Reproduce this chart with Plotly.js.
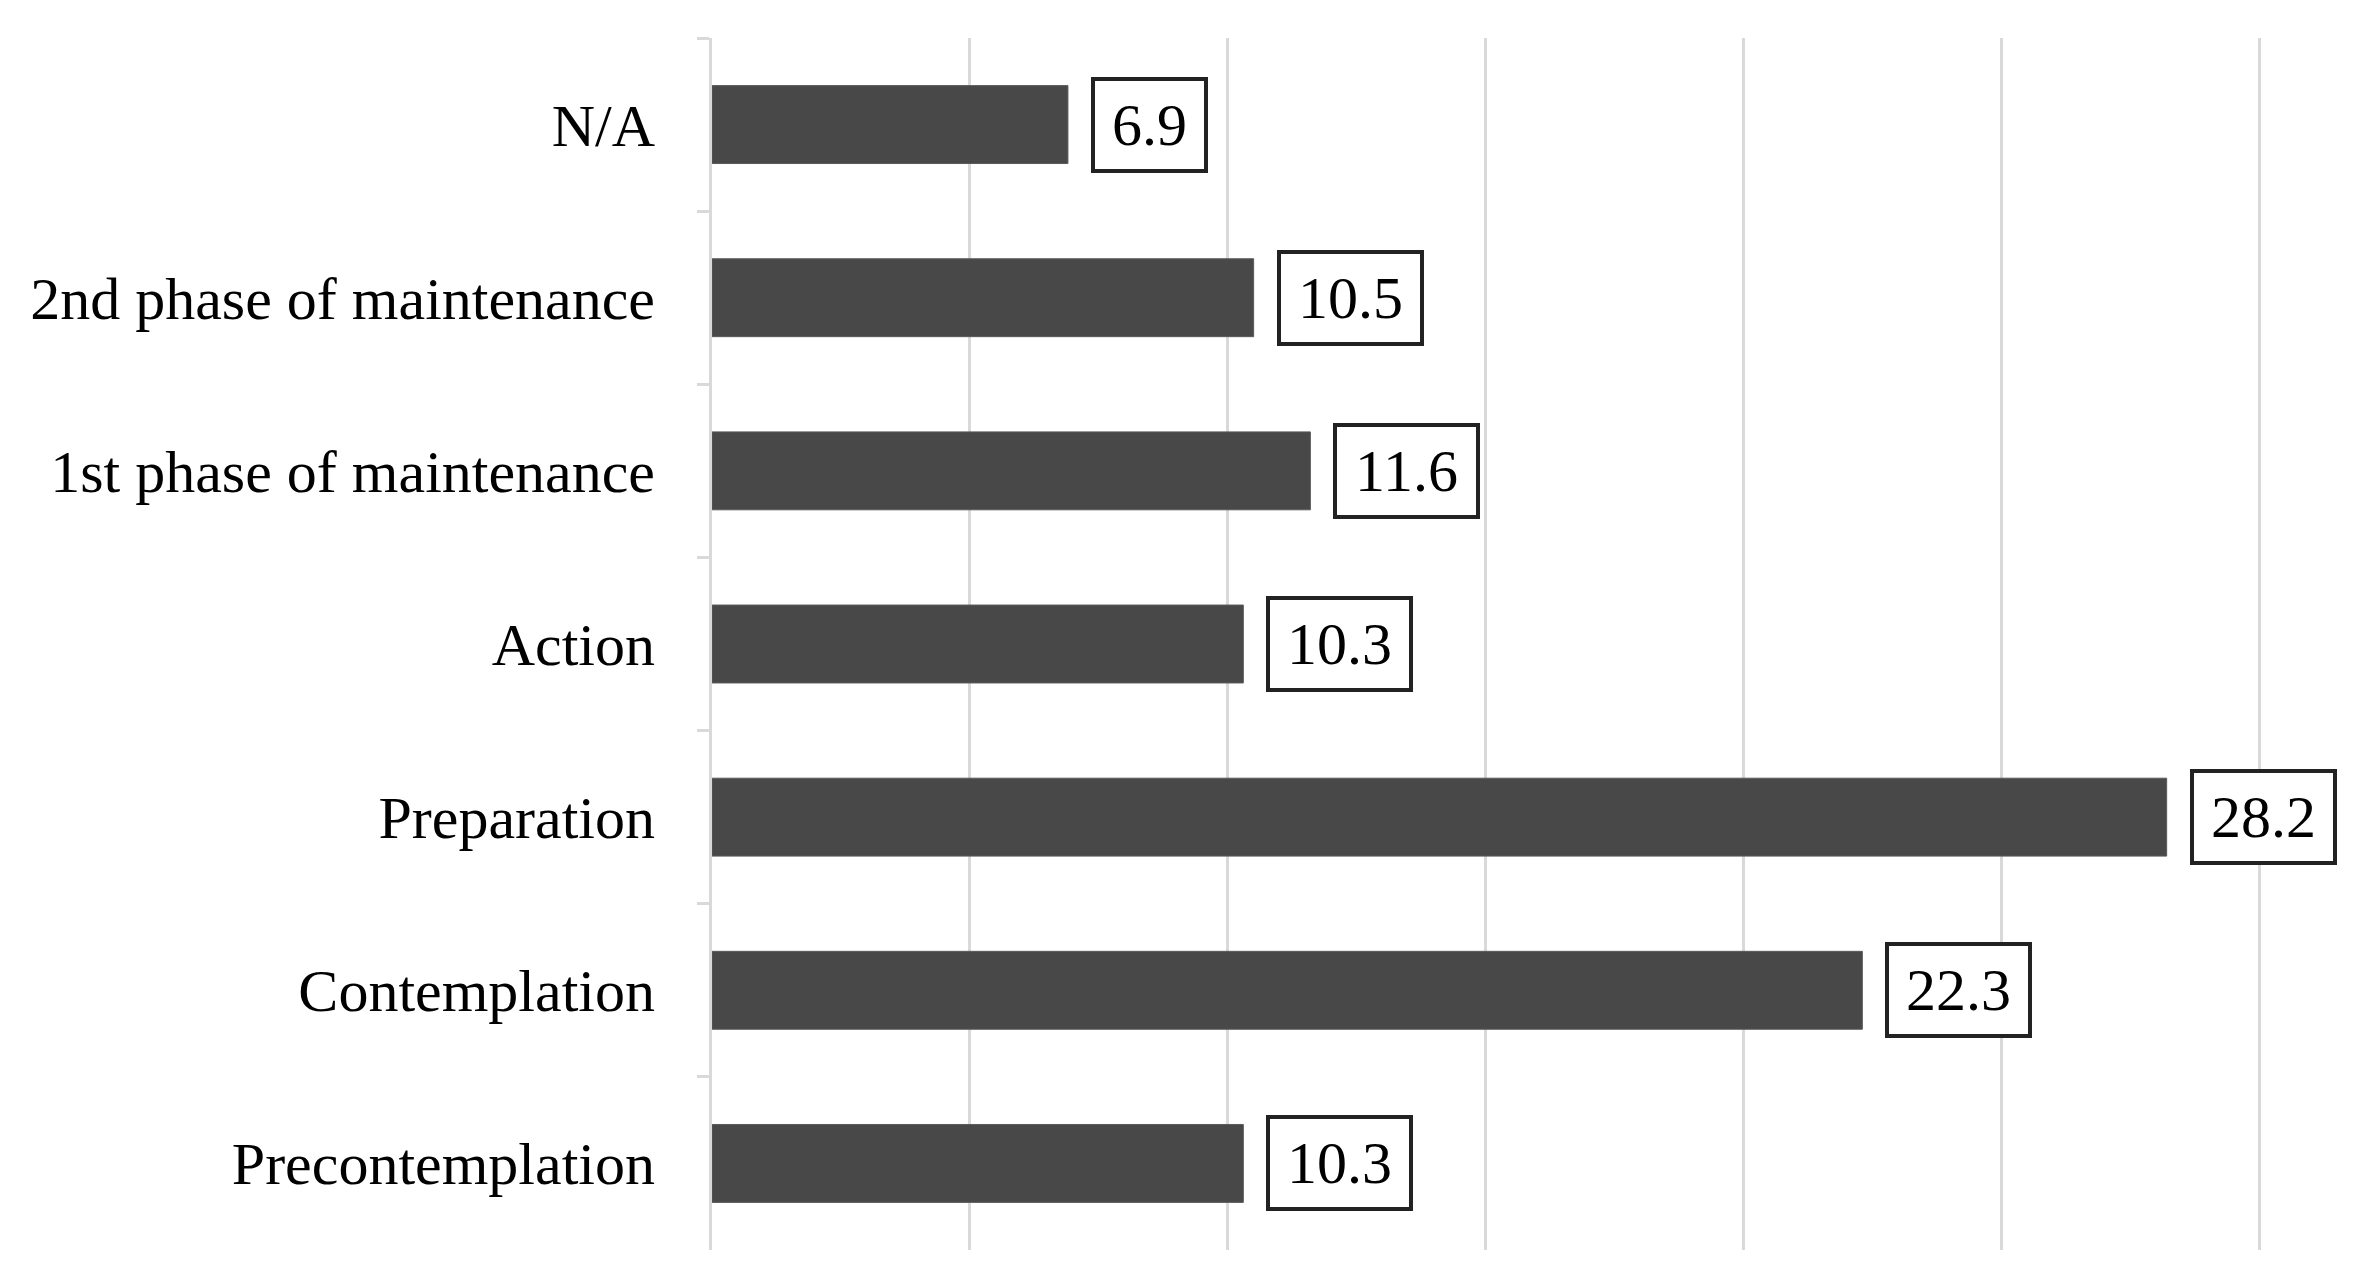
<!DOCTYPE html>
<html>
<head>
<meta charset="utf-8">
<script src="https://cdn.plot.ly/plotly-3.0.1.min.js"></script>
<style>html,body{margin:0;padding:0;background:#fff;}#chart{width:2376px;height:1283px;}</style>
</head>
<body>
<div id="chart"></div>
<script>
// Categories listed top to bottom
const categories = ["N/A", "2nd phase of maintenance", "1st phase of maintenance", "Action", "Preparation", "Contemplation", "Precontemplation"];
const values = [6.9, 10.5, 11.6, 10.3, 28.2, 22.3, 10.3];
const labels = ["6.9", "10.5", "11.6", "10.3", "28.2", "22.3", "10.3"];

const FONT = "Liberation Serif, Times New Roman, serif";
const FS = 60;

function textWidth(s) {
  let w = 0;
  for (const ch of s) w += (ch === ".") ? 0.25 : 0.5;
  return w * FS;
}

const trace = {
  type: "bar",
  orientation: "h",
  y: categories,
  x: values,
  marker: {color: "#484848", line: {color: "#5a5a5a", width: 1}},
  hoverinfo: "none"
};

const annotations = categories.map((c, i) => ({
  x: values[i], y: c, xref: "x", yref: "y",
  text: labels[i], showarrow: false,
  xanchor: "left", yanchor: "middle", xshift: 23,
  width: textWidth(labels[i]) + 12,
  font: {family: FONT, size: FS, color: "#000"},
  bgcolor: "#fff", bordercolor: "#222", borderwidth: 4, borderpad: 11
}));

const layout = {
  width: 2376, height: 1283,
  margin: {l: 712, r: 101, t: 38, b: 33},
  paper_bgcolor: "#fff", plot_bgcolor: "#fff",
  showlegend: false,
  bargap: 0.55,
  font: {family: FONT, size: FS, color: "#000"},
  xaxis: {
    range: [0, 30.3], dtick: 5, tick0: 0,
    showgrid: true, gridcolor: "#d9d9d9", gridwidth: 3,
    showticklabels: false, zeroline: false, showline: false, ticks: ""
  },
  yaxis: {
    type: "category", autorange: "reversed",
    showline: true, linecolor: "#d9d9d9", linewidth: 3,
    ticks: "outside", tickson: "boundaries", ticklen: 12, tickwidth: 3, tickcolor: "#d9d9d9",
    ticklabelstandoff: 42,
    tickfont: {family: FONT, size: FS, color: "#000"},
    showgrid: false, zeroline: false
  },
  annotations: annotations
};

Plotly.newPlot("chart", [trace], layout, {displayModeBar: false, staticPlot: true});
</script>
</body>
</html>
